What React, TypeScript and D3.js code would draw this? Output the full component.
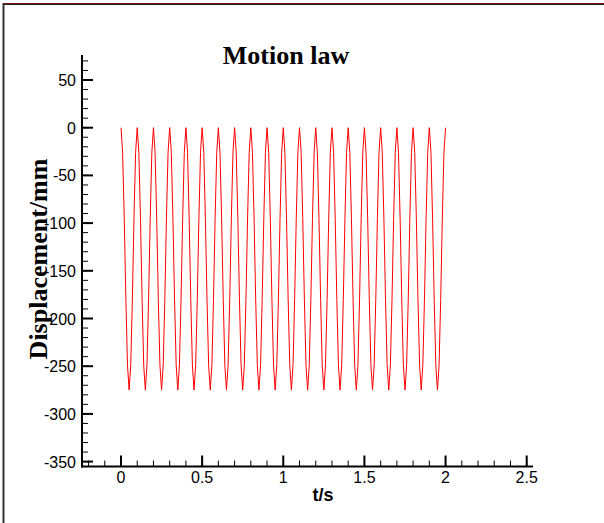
import React from "react";
import * as d3 from "d3";

// One period of the motion (0.1 s), sampled every 0.01 s, displacement in mm
const cycleTimes = [0, 0.01, 0.02, 0.03, 0.04, 0.05, 0.06, 0.07, 0.08, 0.09];
const cycleDisplacement = [0, -26, -95, -180, -249, -275, -249, -180, -95, -26];
const period = 0.1;
const cycleCount = 20;

const xTicks = [0, 0.5, 1, 1.5, 2, 2.5];
const yTicks = [50, 0, -50, -100, -150, -200, -250, -300, -350];

const title = "Motion law";
const xLabel = "t/s";
const yLabel = "Displacement/mm";

const W = 604;
const H = 523;

// Repeat the sampled period over the whole run, closing at t = 2 s
const series: [number, number][] = [];
for (let c = 0; c < cycleCount; c++) {
  cycleTimes.forEach((t, i) => {
    series.push([+(c * period + t).toFixed(3), cycleDisplacement[i]]);
  });
}
series.push([cycleCount * period, cycleDisplacement[0]]);

export default function App() {
  const x = d3.scaleLinear().domain([0, 2.5]).range([121, 526.7]);
  const y = d3.scaleLinear().domain([0, -350]).range([127.7, 461.6]);

  const xMin = x.invert(82);
  const xMax = x.invert(533);
  const yTop = y.invert(55);
  const yBot = y.invert(466.5);

  const line = d3
    .line<[number, number]>()
    .x((d) => x(d[0]))
    .y((d) => y(d[1]));

  const xMinor = d3.range(Math.ceil(xMin * 10), Math.floor(xMax * 10) + 1).map((v) => v / 10);
  const yMinor = d3.range(Math.ceil(yBot / 10), Math.floor(yTop / 10) + 1).map((v) => v * 10);

  const axisX = x(xMin);
  const axisY = y(yBot);

  return (
    <svg
      width={W}
      height={H}
      style={{ position: "absolute", left: 0, top: 0, background: "#fff" }}
    >
      <rect x={0} y={0} width={W} height={H} fill="#fff" />
      {/* outer frame (top and left edges) */}
      <line x1={3} y1={3.5} x2={W} y2={3.5} stroke="#7a1010" strokeWidth={1} />
      <line x1={3} y1={4.5} x2={W} y2={4.5} stroke="#222" strokeWidth={1} />
      <line x1={3.5} y1={3} x2={3.5} y2={H} stroke="#333" strokeWidth={2} />

      {/* data curve */}
      <path d={line(series) ?? ""} fill="none" stroke="#ff0000" strokeWidth={1} />

      {/* y axis */}
      <line x1={axisX} y1={y(yTop)} x2={axisX} y2={axisY + 1} stroke="#000" strokeWidth={2} />
      {yMinor.map((v) => (
        <line key={"ym" + v} x1={axisX} x2={axisX + 6} y1={y(v)} y2={y(v)} stroke="#000" strokeWidth={1} />
      ))}
      {yTicks.map((v) => (
        <g key={"yt" + v}>
          <line x1={axisX} x2={axisX + 11} y1={y(v)} y2={y(v)} stroke="#000" strokeWidth={2} />
          <text
            x={axisX - 6}
            y={y(v) + 6}
            textAnchor="end"
            fontFamily="Liberation Sans, Arial, sans-serif"
            fontSize={16}
            fill="#000"
          >
            {v}
          </text>
        </g>
      ))}

      {/* x axis */}
      <line x1={axisX - 1} y1={axisY} x2={x(xMax)} y2={axisY} stroke="#000" strokeWidth={2} />
      {xMinor.map((v) => (
        <line key={"xm" + v} x1={x(v)} x2={x(v)} y1={axisY} y2={axisY - 6} stroke="#000" strokeWidth={1} />
      ))}
      {xTicks.map((v) => (
        <g key={"xt" + v}>
          <line x1={x(v)} x2={x(v)} y1={axisY} y2={axisY - 11} stroke="#000" strokeWidth={2} />
          <text
            x={x(v)}
            y={483}
            textAnchor="middle"
            fontFamily="Liberation Sans, Arial, sans-serif"
            fontSize={16}
            fill="#000"
          >
            {v}
          </text>
        </g>
      ))}

      {/* titles */}
      <text
        x={286}
        y={64}
        textAnchor="middle"
        fontFamily="Liberation Serif, Times New Roman, serif"
        fontWeight="bold"
        fontSize={26}
        fill="#000"
      >
        {title}
      </text>
      <text
        x={323}
        y={501}
        textAnchor="middle"
        fontFamily="Liberation Sans, Arial, sans-serif"
        fontWeight="bold"
        fontSize={18}
        fill="#000"
      >
        {xLabel}
      </text>
      <text
        transform={`translate(47,259) rotate(-90)`}
        textAnchor="middle"
        fontFamily="Liberation Serif, Times New Roman, serif"
        fontWeight="bold"
        fontSize={26}
        fill="#000"
      >
        {yLabel}
      </text>
    </svg>
  );
}
